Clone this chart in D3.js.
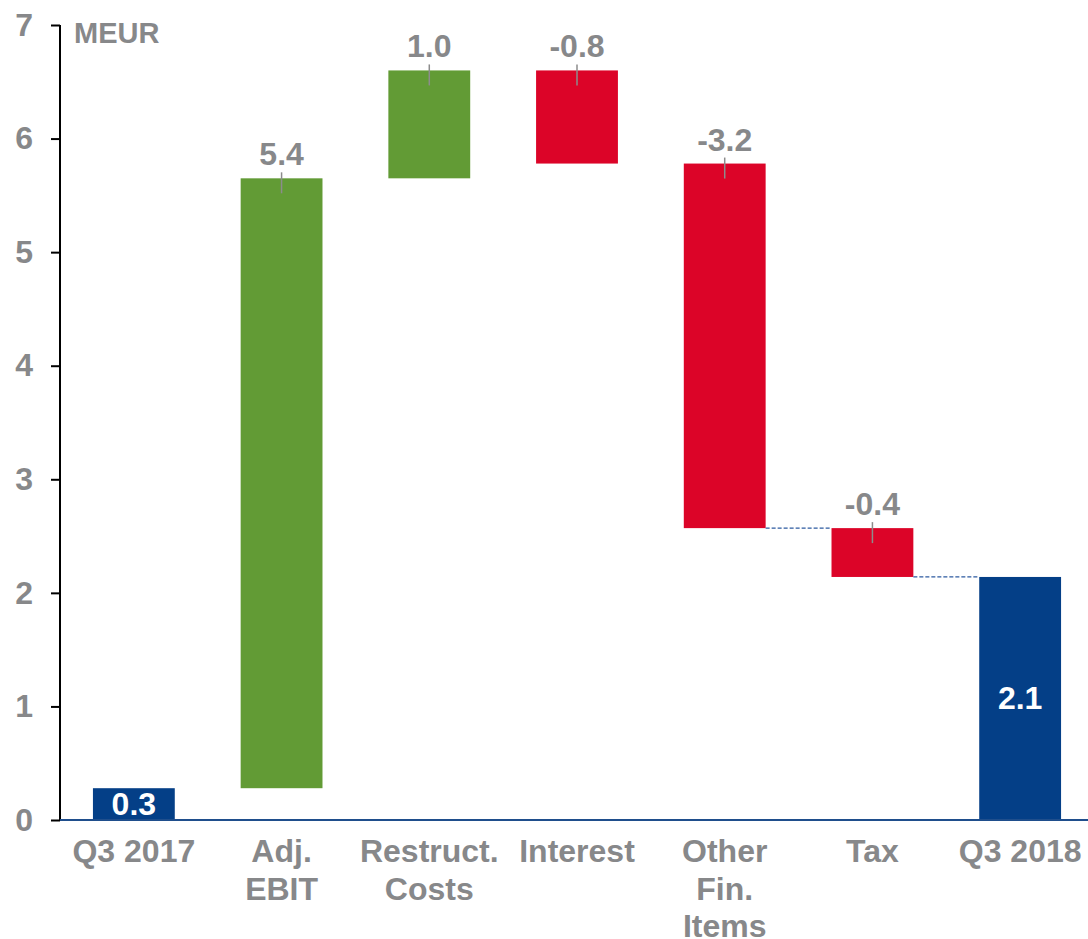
<!DOCTYPE html>
<html>
<head>
<meta charset="utf-8">
<script src="https://cdn.jsdelivr.net/npm/d3@7"></script>
<style>
  body { margin: 0; background: #fff; }
  text { font-family: "Liberation Sans", Arial, sans-serif; font-weight: bold; }
</style>
</head>
<body>
<div class="graph"></div>
<script>
// Chart data
const categories = ['Q3 2017', 'Adj.\nEBIT', 'Restruct.\nCosts', 'Interest', 'Other\nFin.\nItems', 'Tax', 'Q3 2018'];
const values = [0.28, 5.37, 0.95, -0.82, -3.21, -0.43, 2.14];
const kinds = ['total', 'delta', 'delta', 'delta', 'delta', 'delta', 'total'];
const valueLabels = ['0.3', '5.4', '1.0', '-0.8', '-3.2', '-0.4', '2.1'];
const yTicks = [0, 1, 2, 3, 4, 5, 6, 7];
const connectorsFrom = [4, 5];
const unitLabel = 'MEUR';

document.addEventListener('DOMContentLoaded', function () {
  const width = 1088;
  const height = 939;

  const svg = d3.select('.graph')
    .append('svg')
    .attr('width', width)
    .attr('height', height);

  const gray = '#87888a';
  const colors = { total: '#043f87', up: '#629b35', down: '#dc0428' };

  // Build waterfall steps
  let running = 0;
  const steps = values.map((v, i) => {
    let start, end;
    if (kinds[i] === 'total') {
      start = 0; end = v; running = v;
    } else {
      start = running; end = running + v; running = end;
    }
    return { cat: categories[i], value: v, kind: kinds[i], label: valueLabels[i], start, end };
  });

  const x = d3.scaleBand()
    .domain(categories)
    .range([60, 1094])
    .paddingInner(0.446)
    .paddingOuter(0.223);

  const y = d3.scaleLinear()
    .domain([0, 7])
    .range([820, 25]);

  // Y axis
  const yAxis = svg.append('g')
    .attr('transform', 'translate(60,0)')
    .call(d3.axisLeft(y).tickValues(yTicks).tickSize(9).tickPadding(18).tickFormat(d3.format('d')));
  yAxis.select('.domain').attr('stroke', '#000').attr('stroke-width', 2).attr('d', `M0,${y(7)}V${y(0)}`);
  yAxis.selectAll('.tick line').attr('stroke', '#000').attr('stroke-width', 2);
  yAxis.selectAll('.tick text')
    .attr('fill', gray)
    .attr('font-size', '32px')
    .attr('font-family', '"Liberation Sans", Arial, sans-serif')
    .attr('font-weight', 'bold');

  svg.append('text')
    .attr('x', 74)
    .attr('y', 43)
    .attr('font-size', '29px')
    .attr('fill', gray)
    .text(unitLabel);

  // Bars
  svg.selectAll('rect.bar')
    .data(steps)
    .enter()
    .append('rect')
    .attr('class', 'bar')
    .attr('x', d => x(d.cat))
    .attr('y', d => y(Math.max(d.start, d.end)))
    .attr('width', x.bandwidth())
    .attr('height', d => Math.abs(y(d.start) - y(d.end)))
    .attr('fill', d => d.kind === 'total' ? colors.total : (d.value >= 0 ? colors.up : colors.down));

  // Baseline
  svg.append('line')
    .attr('x1', 60).attr('x2', width)
    .attr('y1', y(0)).attr('y2', y(0))
    .attr('stroke', '#1f4e8c')
    .attr('stroke-width', 2);

  // Connectors
  svg.selectAll('line.connector')
    .data(connectorsFrom)
    .enter()
    .append('line')
    .attr('class', 'connector')
    .attr('x1', i => x(categories[i]) + x.bandwidth())
    .attr('x2', i => x(categories[i + 1]))
    .attr('y1', i => y(steps[i].end))
    .attr('y2', i => y(steps[i].end))
    .attr('stroke', '#2c5aa0')
    .attr('stroke-width', 1.2)
    .attr('stroke-dasharray', '4,2');

  // Labels above delta bars with leader lines
  const deltas = steps.filter(d => d.kind === 'delta');
  svg.selectAll('line.leader')
    .data(deltas)
    .enter()
    .append('line')
    .attr('class', 'leader')
    .attr('x1', d => x(d.cat) + x.bandwidth() / 2)
    .attr('x2', d => x(d.cat) + x.bandwidth() / 2)
    .attr('y1', d => y(Math.max(d.start, d.end)) - 6)
    .attr('y2', d => y(Math.max(d.start, d.end)) + 15)
    .attr('stroke', '#8c8c8c')
    .attr('stroke-width', 1.5);

  svg.selectAll('text.value')
    .data(deltas)
    .enter()
    .append('text')
    .attr('class', 'value')
    .attr('x', d => x(d.cat) + x.bandwidth() / 2)
    .attr('y', d => y(Math.max(d.start, d.end)) - 13)
    .attr('text-anchor', 'middle')
    .attr('font-size', '32px')
    .attr('fill', gray)
    .text(d => d.label);

  // Labels inside total bars
  svg.selectAll('text.total')
    .data(steps.filter(d => d.kind === 'total'))
    .enter()
    .append('text')
    .attr('class', 'total')
    .attr('x', d => x(d.cat) + x.bandwidth() / 2)
    .attr('y', d => (y(d.start) + y(d.end)) / 2 + 11)
    .attr('text-anchor', 'middle')
    .attr('font-size', '32px')
    .attr('fill', '#fff')
    .text(d => d.label);

  // Category labels
  const catLabels = svg.selectAll('text.cat')
    .data(categories)
    .enter()
    .append('text')
    .attr('class', 'cat')
    .attr('text-anchor', 'middle')
    .attr('font-size', '32px')
    .attr('fill', gray);

  catLabels.selectAll('tspan')
    .data(d => d.split('\n').map(line => ({ line, cat: d })))
    .enter()
    .append('tspan')
    .attr('x', d => x(d.cat) + x.bandwidth() / 2)
    .attr('y', (d, i) => 862 + i * 37.5)
    .text(d => d.line);
});
</script>
</body>
</html>
